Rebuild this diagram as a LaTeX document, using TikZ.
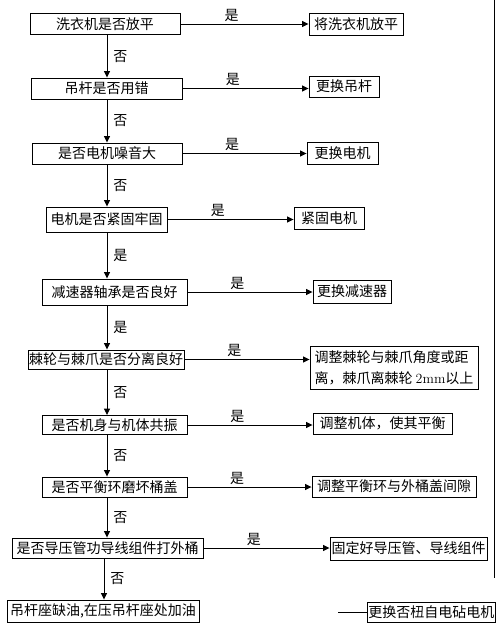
\documentclass[tikz,border=0pt]{standalone}
\usepackage{fontspec}
\newfontfamily\cjk{Noto Sans CJK SC}
\usetikzlibrary{arrows.meta, positioning, calc}
\tikzset{
  >={Triangle[length=6.5pt, width=6pt]},
  check/.style  = {draw, rectangle, line width=0.9pt, minimum height=21pt,
                   inner sep=1pt, font=\cjk\fontsize{14}{21}\selectfont},
  fix/.style    = {check, align=left},
  lab/.style    = {font=\cjk\fontsize{14}{16}\selectfont, inner sep=2pt},
  arrow/.style  = {->, line width=0.9pt},
  plain/.style  = {line width=0.9pt},
}

\begin{document}
\begin{tikzpicture}[x=1pt, y=-1pt]
  \useasboundingbox (0,0) rectangle (496,624);

  % Left column: checks
  \node[check, minimum width=150pt] (q1)  at (105,24)    {洗衣机是否放平};
  \node[check, minimum width=151pt] (q2)  at (106.5,88.5) {吊杆是否用错};
  \node[check, minimum width=150pt] (q3)  at (107,153.5) {是否电机噪音大};
  \node[check, minimum width=121pt, minimum height=25pt]
                                    (q4)  at (106.5,219.5) {电机是否紧固牢固};
  \node[check, minimum width=145pt, minimum height=26pt]
                                    (q5)  at (114.5,292)   {减速器轴承是否良好};
  \node[check, minimum width=156pt, minimum height=19pt]
                                    (q6)  at (106,359.5)   {棘轮与棘爪是否分离良好};
  \node[check, minimum width=145pt, minimum height=19pt]
                                    (q7)  at (114.5,425)   {是否机身与机体共振};
  \node[check, minimum width=145pt, minimum height=20pt]
                                    (q8)  at (114.5,487)   {是否平衡环磨坏桶盖};
  \node[check, minimum width=191pt, minimum height=20pt]
                                    (q9)  at (107.5,548)   {是否导压管功导线组件打外桶};
  \node[check, minimum width=192pt, minimum height=22pt]
                                    (q10) at (103,611)     {吊杆座缺油,在压吊杆座处加油};

  % Right column: fixes
  \node[fix, minimum width=94pt, minimum height=22pt]  (a1) at (356,24)     {将洗衣机放平};
  \node[fix, minimum width=70pt]                       (a2) at (344,86.5)   {更换吊杆};
  \node[fix, minimum width=71pt, minimum height=22pt]  (a3) at (342.5,153)  {更换电机};
  \node[fix, minimum width=70pt, minimum height=22pt]  (a4) at (329,218)    {紧固电机};
  \node[fix, minimum width=78pt, minimum height=23pt]  (a5) at (352,291.5)  {更换减速器};
  \node[fix, minimum width=168pt, minimum height=43pt] (a6) at (394,367.5)
       {调整棘轮与棘爪角度或距\\离，棘爪离棘轮 \textrm{2mm}以上};
  \node[fix, minimum width=139pt]                      (a7) at (382.5,423.5) {调整机体，使其平衡};
  \node[fix, minimum width=164pt]                      (a8) at (394,486.5)  {调整平衡环与外桶盖间隙};
  \node[fix, minimum width=157pt, minimum height=23pt] (a9) at (408.5,548.5) {固定好导压管、导线组件};
  \node[fix, minimum height=20pt, anchor=west]         (a10) at (367,612)   {更换否杻自电砧电机};

  % Spines of the vertical arrows
  \coordinate (spine)  at (107,0);
  \coordinate (spine2) at (104,0);
  \coordinate (stub)   at (338,612);

  % Edges
  \foreach \a/\b/\t in {q1/q2/否, q2/q3/否, q3/q4/否, q4/q5/是,
                        q5/q6/是, q6/q7/否, q7/q8/否, q8/q9/否}
    \draw[arrow] (\a.south -| spine) -- node[lab, right=4pt] {\t} (\b.north -| spine);
  \draw[arrow] (q9.south -| spine2) -- node[lab, right=4pt] {否} (q10.north -| spine2);
  \foreach \n in {1,...,9}
    \draw[arrow] (q\n.east) -- node[lab, above, pos=0.4] {是} (q\n.east -| a\n.west);
  \draw[plain] (stub) -- (a10.west);

  % Frame edge on the right
  \draw[line width=1pt] (494,0) -- (494,578);
\end{tikzpicture}
\end{document}
